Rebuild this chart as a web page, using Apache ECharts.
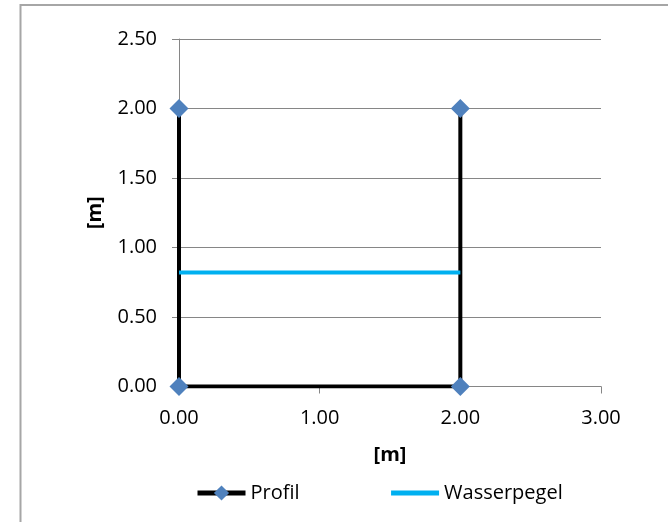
<!DOCTYPE html>
<html>
<head>
<meta charset="utf-8">
<script src="https://cdn.jsdelivr.net/npm/echarts@6/dist/echarts.min.js"></script>
<style>
  html, body { margin: 0; padding: 0; background: #fff; }
  #chart { width: 668px; height: 522px; }
</style>
</head>
<body>
<div id="chart"></div>
<script>
// channel profile points (x [m], y [m])
const profilX = [0, 0, 2, 2];
const profilY = [2, 0, 0, 2];
// water level line
const wasserX = [0, 2];
const wasserY = [0.82, 0.82];

const seriesNames = ["Profil", "Wasserpegel"];
const axisName = "[m]";

const chart = echarts.init(document.getElementById("chart"));
const font = "Open Sans";
const gray = "#868686";

const option = {
  animation: false,
  backgroundColor: "#fff",
  textStyle: { fontFamily: font },
  graphic: [
    {
      //outer chart border, runs past the picture on the right and bottom
      type: "rect",
      x: 20.5,
      y: 5,
      shape: { x: 0, y: 0, width: 700, height: 600 },
      style: { fill: "none", stroke: "#a6a6a6", lineWidth: 2 },
    },
  ],
  grid: { left: 179, right: 67, top: 39, bottom: 135.5 },
  xAxis: {
    type: "value",
    min: 0,
    max: 3,
    interval: 1,
    name: axisName,
    nameLocation: "middle",
    nameGap: 59,
    nameTextStyle: { color: "#000", fontSize: 20, fontWeight: "bold", fontFamily: font },
    axisLine: { lineStyle: { color: gray, width: 1 } },
    axisTick: { show: true, length: 7, lineStyle: { color: gray } },
    splitLine: { show: false },
    axisLabel: {
      color: "#000",
      fontSize: 20,
      margin: 22,
      formatter: (v) => v.toFixed(2),
    },
  },
  yAxis: {
    type: "value",
    min: 0,
    max: 2.5,
    interval: 0.5,
    name: axisName,
    nameLocation: "middle",
    nameGap: 74,
    nameRotate: 90,
    nameTextStyle: { color: "#000", fontSize: 20, fontWeight: "bold", fontFamily: font },
    axisLine: { show: true, lineStyle: { color: gray, width: 1 } },
    axisTick: { show: true, length: 7, lineStyle: { color: gray } },
    splitLine: { show: true, lineStyle: { color: gray, width: 1 } },
    axisLabel: {
      color: "#000",
      fontSize: 20,
      margin: 22,
      formatter: (v) => v.toFixed(2),
    },
  },
  legend: {
    left: 190,
    top: 478,
    itemWidth: 48,
    itemHeight: 19,
    itemGap: 89,
    lineStyle: { width: 5 },
    textStyle: { color: "#000", fontSize: 20 },
    data: seriesNames,
  },
  series: [
    {
      name: seriesNames[1],
      type: "line",
      data: wasserX.map((x, i) => [x, wasserY[i]]),
      symbol: "none",
      lineStyle: { color: "#00B0F0", width: 4 },
      itemStyle: { color: "rgba(0,0,0,0)" },
      z: 3,
    },
    {
      name: seriesNames[0],
      type: "line",
      data: profilX.map((x, i) => [x, profilY[i]]),
      symbol: "diamond",
      symbolSize: 19,
      showAllSymbol: true,
      lineStyle: { color: "#000", width: 4 },
      itemStyle: { color: "#4F81BD" },
      z: 2,
    },
  ],
};
chart.setOption(option);
</script>
</body>
</html>
